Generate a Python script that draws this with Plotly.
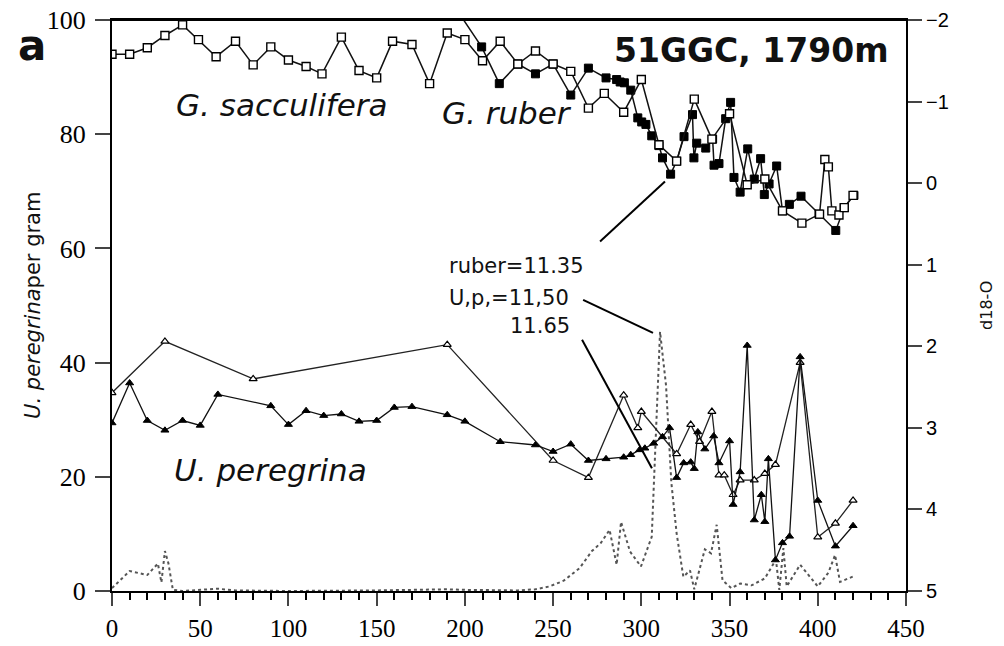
import plotly.graph_objects as go

# G. sacculifera d18-O (open squares), right axis
sacc_depth = [0, 10, 20, 30, 40, 49, 59, 70, 80, 90, 100, 110, 119, 130, 140, 150, 159, 170,
              180, 190, 200, 210, 220, 230, 240, 250, 260, 270, 279, 290, 300, 310, 320, 330,
              340, 350, 360, 370, 380, 391, 401, 404, 406, 408, 412, 415, 420]
sacc_d18o = [-1.58, -1.58, -1.66, -1.81, -1.94, -1.76, -1.55, -1.74, -1.45, -1.67, -1.51, -1.43,
             -1.34, -1.79, -1.38, -1.29, -1.74, -1.70, -1.22, -1.84, -1.76, -1.50, -1.74, -1.46,
             -1.62, -1.46, -1.37, -0.92, -1.10, -0.87, -1.27, -0.47, -0.27, -1.03, -0.54, -0.85,
             0.02, -0.05, 0.34, 0.49, 0.38, -0.29, -0.20, 0.34, 0.39, 0.30, 0.15]

# G. ruber d18-O (filled squares), right axis
ruber_depth = [190, 209.5, 219.5, 230, 240, 250, 260, 270, 280, 286, 288, 290.4, 294, 298, 300.2,
               302.6, 305.9, 310, 312, 316.6, 320, 324.2, 329, 329.8, 331.4, 336.5, 340.4, 341.2,
               344, 347.8, 350.6, 352.5, 356, 360.3, 364, 367.6, 369.7, 372.4, 376.7, 380, 383.9,
               390.5, 400.7, 410.2, 415, 420.5]
ruber_d18o = [-2.30, -1.67, -1.22, -1.46, -1.34, -1.46, -1.08, -1.41, -1.29, -1.27, -1.24, -1.23,
              -1.14, -0.80, -0.75, -0.72, -0.58, -0.46, -0.31, -0.11, -0.27, -0.57, -0.84, -0.31,
              -0.49, -0.43, -0.54, -0.22, -0.24, -0.79, -0.99, -0.07, 0.11, -0.42, -0.05, -0.30,
              0.14, 0.01, -0.21, 0.34, 0.26, 0.16, 0.38, 0.58, 0.30, 0.15]

# U. peregrina d18-O, run 1 (open triangles), right axis
upo_depth = [0, 30, 80, 190, 250, 270, 290, 298, 300, 320, 328, 333, 340, 344, 347, 352, 356,
             364, 370, 376, 390, 400, 410, 420]
upo_d18o = [2.57, 1.94, 2.40, 1.98, 3.40, 3.61, 2.60, 3.00, 2.80, 3.32, 2.96, 3.17, 2.80, 3.58,
            3.58, 3.82, 3.64, 3.64, 3.56, 3.45, 2.20, 4.34, 4.17, 3.89]

# U. peregrina d18-O, run 2 (filled triangles), right axis
upf_depth = [0, 10, 20, 30, 40, 50, 60, 90, 100, 110, 120, 130, 140, 150, 160, 170, 190, 200,
             220, 240, 250, 260, 270, 280, 290, 294, 299, 302, 307, 312, 316, 320, 324, 328, 330,
             332, 336, 341, 344, 350, 352, 356, 360, 364, 368, 370, 372, 376, 380, 384, 390, 400,
             410, 420]
upf_d18o = [2.94, 2.45, 2.91, 3.03, 2.91, 2.97, 2.59, 2.73, 2.96, 2.79, 2.85, 2.83, 2.92, 2.91,
            2.75, 2.74, 2.84, 2.92, 3.17, 3.21, 3.29, 3.20, 3.40, 3.38, 3.36, 3.33, 3.27, 3.25,
            3.19, 3.11, 3.00, 3.61, 3.43, 3.42, 3.50, 3.05, 3.26, 3.10, 3.43, 3.16, 3.94, 3.54,
            1.99, 4.13, 3.82, 4.15, 3.38, 4.62, 4.41, 4.33, 2.13, 3.89, 4.45, 4.20]

# U. peregrina per gram (dotted), left axis
upg_depth = [0, 10, 20, 26, 28, 30, 32, 34.5, 40, 50, 60, 70, 100, 150, 190, 200, 230, 240, 248,
             256, 265, 272, 277, 282, 286, 288.5, 293.6, 299.8, 305.9, 310.6, 314, 317, 320,
             323.8, 327.6, 330, 336, 339.5, 342.7, 346, 351, 356, 362.5, 370, 376.3, 378.2,
             380.5, 382.4, 390, 400, 406, 409.8, 412.6, 420.5]
upg_count = [0.5, 3.5, 2.8, 4.8, 1.5, 7.0, 4.8, 0.2, 0, 0.2, 0.4, 0.1, 0, 0.1, 0.3, 0.2, 0.1, 0.3,
             0.8, 1.8, 4.0, 7.0, 8.4, 10.7, 4.6, 12.1, 6.9, 4.3, 9.5, 45.4, 36, 19, 10.1, 2.5,
             3.6, 0.3, 7.3, 6.6, 11.6, 1.9, 0.5, 1.3, 1.0, 2.2, 5.5, 0.2, 7.5, 0.8, 4.6, 0.8,
             3.2, 6.3, 1.6, 2.6]

x_ticks = [0, 50, 100, 150, 200, 250, 300, 350, 400, 450]

fig = go.Figure()

fig.add_trace(go.Scatter(
    x=upg_depth, y=upg_count, mode='lines', yaxis='y',
    line=dict(color='#555555', width=2, dash='dot'), showlegend=False
))
fig.add_trace(go.Scatter(
    x=upo_depth, y=upo_d18o, mode='lines+markers', yaxis='y2',
    line=dict(color='#222222', width=1.3),
    marker=dict(symbol='triangle-up', size=7, color='white', line=dict(color='black', width=1.2)),
    showlegend=False
))
fig.add_trace(go.Scatter(
    x=upf_depth, y=upf_d18o, mode='lines+markers', yaxis='y2',
    line=dict(color='#111111', width=1.3),
    marker=dict(symbol='triangle-up', size=7, color='black', line=dict(color='black', width=1)),
    showlegend=False
))
fig.add_trace(go.Scatter(
    x=ruber_depth, y=ruber_d18o, mode='lines+markers', yaxis='y2',
    line=dict(color='#111111', width=1.5),
    marker=dict(symbol='square', size=8, color='black', line=dict(color='black', width=1)),
    showlegend=False
))
fig.add_trace(go.Scatter(
    x=sacc_depth, y=sacc_d18o, mode='lines+markers', yaxis='y2',
    line=dict(color='#111111', width=1.5),
    marker=dict(symbol='square', size=8, color='white', line=dict(color='black', width=1.4)),
    showlegend=False
))

# pointer lines from the labels
for x0, y0, x1, y1 in [(276.6, 61.2, 313.4, 71.7), (267, 51, 306.6, 45.2), (266.4, 44, 306, 21.5)]:
    fig.add_shape(type='line', xref='x', yref='y', x0=x0, y0=y0, x1=x1, y1=y1,
                  line=dict(color='black', width=2))

# top frame line
fig.add_shape(type='line', xref='paper', yref='paper', x0=0, x1=1, y0=1, y1=1,
              line=dict(color='black', width=2))

sans = 'DejaVu Sans'
notes = [
    dict(text='<b>a</b>', x=-0.101, y=0.956, size=42, angle=0),
    dict(text='<b>51GGC, 1790m</b>', x=0.805, y=0.947, size=33, angle=0),
    dict(text='<i>G. sacculifera</i>', x=0.2135, y=0.852, size=31, angle=0),
    dict(text='<i>G. ruber</i>', x=0.498, y=0.837, size=31, angle=0),
    dict(text='<i>U. peregrina</i>', x=0.199, y=0.212, size=31, angle=0),
    dict(text='<i>U. peregrina</i>per gram', x=-0.0995, y=0.501, size=21, angle=-90),
    dict(text='d18-O', x=1.102, y=0.501, size=16, angle=-90),
]
for n in notes:
    fig.add_annotation(text=n['text'], x=n['x'], y=n['y'], xref='paper', yref='paper',
                       xanchor='center', yanchor='middle', showarrow=False, textangle=n['angle'],
                       font=dict(family=sans, size=n['size'], color='#111111'))

labels = [('ruber=11.35', 0.4219, 0.569), ('U,p,=11,50', 0.4219, 0.513), ('11.65', 0.4987, 0.464)]
for text, xp, yp in labels:
    fig.add_annotation(text=text, x=xp, y=yp, xref='paper', yref='paper',
                       xanchor='left', yanchor='middle', showarrow=False,
                       font=dict(family=sans, size=21, color='#111111'))

# the page body keeps its 8px margin, so the figure is 8px smaller each way
fig.update_layout(
    width=996, height=638,
    margin=dict(l=104, r=98, t=12, b=55, autoexpand=False),
    paper_bgcolor='white', plot_bgcolor='white',
    font=dict(family=sans, color='black'),
    showlegend=False,
    xaxis=dict(
        range=[0, 450], tickvals=x_ticks, ticks='outside', ticklen=13, tickwidth=2,
        showline=True, linecolor='black', linewidth=2, mirror=True, showgrid=False,
        zeroline=False, tickfont=dict(family='Liberation Serif', size=25),
        ticklabelstandoff=1, automargin=False, ticklabeloverflow='allow',
        minor=dict(dtick=10, ticks='outside', ticklen=7, tickwidth=1.5, tickcolor='black')
    ),
    yaxis=dict(
        range=[0, 100], dtick=20, ticks='outside', ticklen=15, tickwidth=2,
        showline=True, linecolor='black', linewidth=2, showgrid=False, zeroline=False,
        tickfont=dict(family='Liberation Serif', size=26), ticklabelstandoff=4,
        automargin=False, ticklabeloverflow='allow'
    ),
    yaxis2=dict(
        range=[5, -2], dtick=1, overlaying='y', side='right', anchor='x',
        ticks='outside', ticklen=14, tickwidth=2, showline=True, linecolor='black',
        linewidth=2, showgrid=False, zeroline=False, automargin=False,
        ticklabeloverflow='allow', tickfont=dict(family='Liberation Sans', size=20)
    ),
)

fig.write_html("out.html")
